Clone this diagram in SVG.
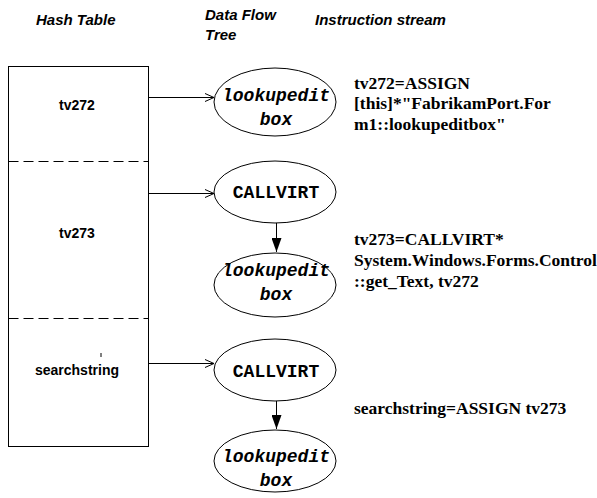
<svg xmlns="http://www.w3.org/2000/svg" width="597" height="498" viewBox="0 0 597 498">
  <style>
    .hdr { font-family: "Liberation Sans", Arial, sans-serif; font-size: 15px; font-weight: bold; font-style: italic; fill: #000; }
    .key { font-family: "Liberation Sans", Arial, sans-serif; font-size: 14px; font-weight: bold; fill: #000; text-anchor: middle; }
    .op { font-family: "Liberation Mono", "Courier New", monospace; font-size: 18px; font-weight: bold; fill: #000; text-anchor: middle; }
    .opi { font-style: italic; }
    .ins { font-family: "Liberation Serif", "Times New Roman", serif; font-size: 17.5px; font-weight: bold; fill: #000; }
    .node { fill: #fff; stroke: #000; stroke-width: 1; }
    .link { stroke: #000; stroke-width: 1; fill: none; }
  </style>
  <defs>
    <marker id="open" viewBox="0 0 10 10" refX="10" refY="5" markerWidth="10" markerHeight="10" markerUnits="userSpaceOnUse" orient="auto">
      <path d="M1,1 L10,5 L1,9" fill="none" stroke="#000" stroke-width="1"/>
    </marker>
    <marker id="solid" viewBox="0 0 14 10" refX="14" refY="5" markerWidth="14" markerHeight="10" markerUnits="userSpaceOnUse" orient="auto">
      <path d="M0,0 L14,5 L0,10 Z" fill="#000"/>
    </marker>
  </defs>
  <rect width="597" height="498" fill="#fff"/>

  <!-- column headings -->
  <text class="hdr" x="36" y="25">Hash Table</text>
  <text class="hdr" x="205" y="20">Data Flow</text>
  <text class="hdr" x="205" y="40">Tree</text>
  <text class="hdr" x="315" y="25">Instruction stream</text>

  <!-- hash table -->
  <g id="hash-table">
    <rect x="8.5" y="66.5" width="140" height="380" fill="#fff" stroke="#000" stroke-width="1"/>
    <line x1="8.5" y1="161.5" x2="148.5" y2="161.5" stroke="#000" stroke-dasharray="10 5"/>
    <line x1="8.5" y1="318.5" x2="148.5" y2="318.5" stroke="#000" stroke-dasharray="10 5"/>
    <text class="key" x="77" y="110">tv272</text>
    <text class="key" x="77" y="238">tv273</text>
    <!-- small stray tick above the last key -->
    <line x1="101" y1="353" x2="101" y2="357" stroke="#000" stroke-width="1"/>
    <text class="key" x="77" y="375">searchstring</text>
  </g>

  <!-- data flow tree nodes -->
  <g id="n1">
    <ellipse class="node" cx="275" cy="102" rx="61" ry="34"/>
    <text class="op opi" x="276" y="101">lookupedit</text>
    <text class="op opi" x="276" y="125">box</text>
  </g>
  <g id="n2">
    <ellipse class="node" cx="275" cy="192" rx="61" ry="31"/>
    <text class="op" x="276" y="198">CALLVIRT</text>
  </g>
  <g id="n3">
    <ellipse class="node" cx="275" cy="285" rx="61" ry="32"/>
    <text class="op opi" x="276" y="276">lookupedit</text>
    <text class="op opi" x="276" y="300">box</text>
  </g>
  <g id="n4">
    <ellipse class="node" cx="275" cy="370" rx="61" ry="31"/>
    <text class="op" x="276" y="377">CALLVIRT</text>
  </g>
  <g id="n5">
    <ellipse class="node" cx="275" cy="461" rx="61" ry="31"/>
    <text class="op opi" x="276" y="462">lookupedit</text>
    <text class="op opi" x="276" y="486">box</text>
  </g>

  <!-- connectors -->
  <g id="links">
    <line class="link" x1="148.5" y1="97.5" x2="214" y2="97.5" marker-end="url(#open)"/>
    <line class="link" x1="148.5" y1="193.5" x2="214" y2="193.5" marker-end="url(#open)"/>
    <line class="link" x1="148.5" y1="363.5" x2="214" y2="363.5" marker-end="url(#open)"/>
    <line class="link" x1="276.5" y1="223" x2="276.5" y2="252" marker-end="url(#solid)"/>
    <line class="link" x1="276.5" y1="401" x2="276.5" y2="429" marker-end="url(#solid)"/>
  </g>

  <!-- instruction stream -->
  <g id="instructions">
    <text class="ins" x="354" y="89">tv272=ASSIGN</text>
    <text class="ins" x="354" y="109">[this]*"FabrikamPort.For</text>
    <text class="ins" x="354" y="130">m1::lookupeditbox"</text>
    <text class="ins" x="354" y="245">tv273=CALLVIRT*</text>
    <text class="ins" x="354" y="266">System.Windows.Forms.Control</text>
    <text class="ins" x="354" y="287">::get_Text, tv272</text>
    <text class="ins" x="354" y="414">searchstring=ASSIGN tv273</text>
  </g>
</svg>
